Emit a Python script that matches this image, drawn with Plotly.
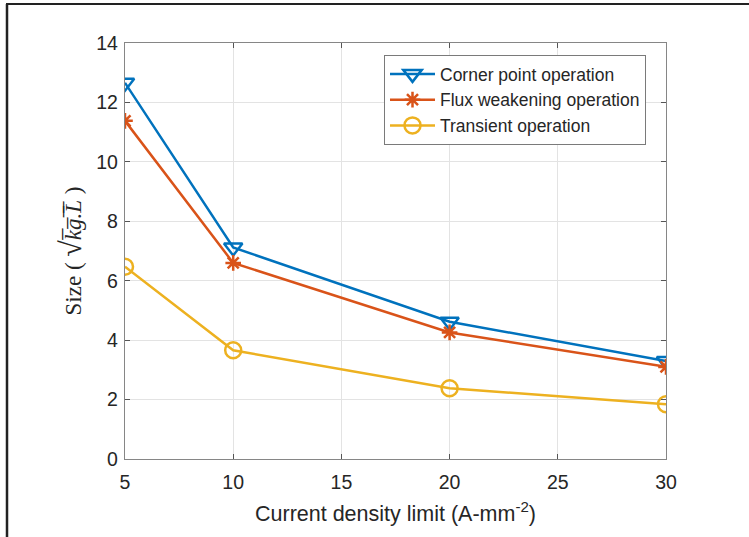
import plotly.graph_objects as go

current_limit = [5, 10, 20, 30]
corner_point = [12.66, 7.12, 4.62, 3.30]
flux_weakening = [11.38, 6.60, 4.26, 3.10]
transient = [6.47, 3.66, 2.38, 1.84]

x_ticks = [5, 10, 15, 20, 25, 30]
y_ticks = [0, 2, 4, 6, 8, 10, 12, 14]

W, H = 749, 537
L, R, T, B = 125, 83, 43, 78
pw, ph = W - L - R, H - T - B

def px2x(p):
    return (p - L) / pw

def px2y(p):
    return 1 - (p - T) / ph

fig = go.Figure()
fig.add_trace(go.Scatter(x=current_limit, y=corner_point, mode="lines+markers",
                         name="Corner point operation",
                         line=dict(color="#0072BD", width=2.5),
                         marker=dict(symbol="triangle-down-open", size=16,
                                     line=dict(width=2.5, color="#0072BD"))))
fig.add_trace(go.Scatter(x=current_limit, y=flux_weakening, mode="lines+markers",
                         name="Flux weakening operation",
                         line=dict(color="#D95319", width=2.5),
                         marker=dict(symbol="asterisk-open", size=13,
                                     line=dict(width=2.5, color="#D95319"))))
fig.add_trace(go.Scatter(x=current_limit, y=transient, mode="lines+markers",
                         name="Transient operation",
                         line=dict(color="#EDB120", width=2.5),
                         marker=dict(symbol="circle-open", size=16,
                                     line=dict(width=2.5, color="#EDB120"))))

axis_common = dict(showgrid=True, gridcolor="#E3E3E3", gridwidth=1,
                   showline=True, linecolor="#868686", linewidth=1.3, mirror="ticks",
                   ticks="inside", ticklen=5, tickcolor="#555555",
                   zeroline=False,
                   tickfont=dict(family="Liberation Sans, Arial, sans-serif", size=19.5, color="#262626"))

fig.update_xaxes(range=[5, 30], tickvals=x_ticks, **axis_common, ticklabelstandoff=5,
                 title=dict(text="Current density limit (A-mm<sup>-2</sup>)",
                            font=dict(family="Liberation Sans, Arial, sans-serif", size=21.5, color="#262626"),
                            standoff=14))
fig.update_yaxes(range=[0, 14], tickvals=y_ticks, **axis_common, ticklabelstandoff=2,
                 title=dict(text="Size ( <span style='font-size:30px'>√</span><i>k̅g̅.̅L̅</i> )",
                            font=dict(family="Liberation Serif, DejaVu Serif, serif", size=23, color="#262626"),
                            standoff=8))

fig.update_layout(
    width=W, height=H,
    margin=dict(l=L, r=R, t=T, b=B),
    paper_bgcolor="white", plot_bgcolor="white",
    showlegend=True,
    legend=dict(x=px2x(384), y=px2y(55), xanchor="left", yanchor="top",
                bordercolor="#7A7A7A", borderwidth=1, bgcolor="white",
                font=dict(family="Liberation Sans, Arial, sans-serif", size=17.5, color="#262626"),
                itemwidth=45, tracegroupgap=0),
    shapes=[
        dict(type="line", xref="paper", yref="paper",
             x0=px2x(6), x1=px2x(749), y0=px2y(4), y1=px2y(4),
             line=dict(color="#222222", width=2)),
        dict(type="line", xref="paper", yref="paper",
             x0=px2x(7), x1=px2x(7), y0=px2y(4), y1=px2y(537),
             line=dict(color="#222222", width=2.5)),
    ],
)

fig.write_html("out.html", config={"displayModeBar": False},
               post_script="document.body.style.margin='0';document.body.style.overflow='hidden';")
